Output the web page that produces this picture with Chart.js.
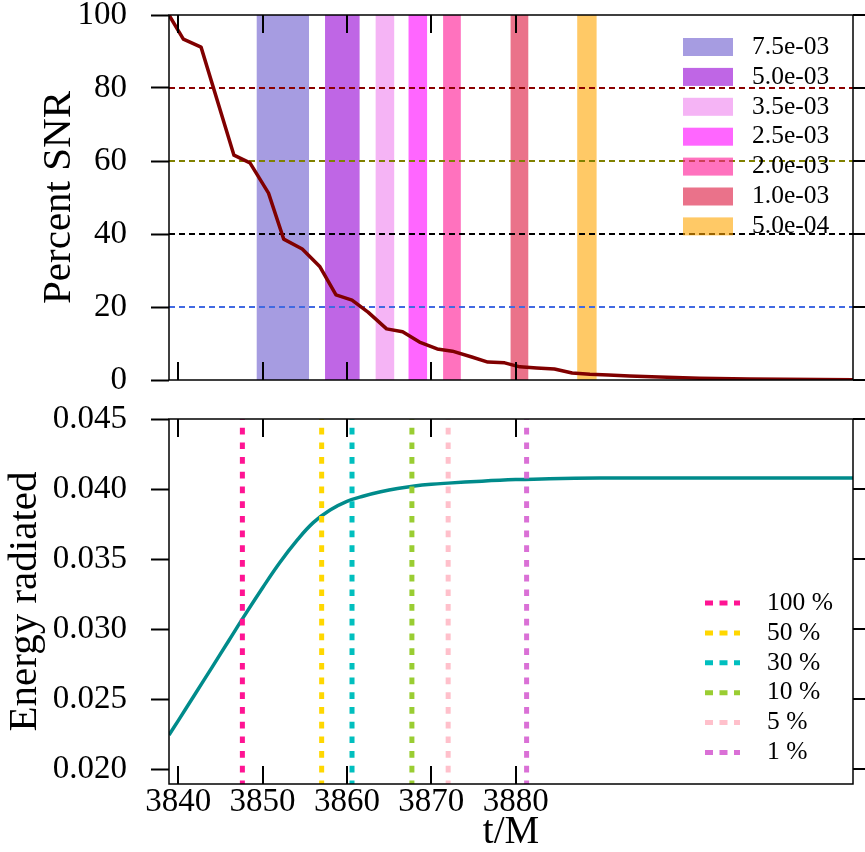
<!DOCTYPE html>
<html>
<head>
<meta charset="utf-8">
<script src="https://cdn.jsdelivr.net/npm/chart.js@4.4.0/dist/chart.umd.min.js"></script>
<style>
  body { margin: 0; background: #fff; }
  #wrap { position: relative; width: 865px; height: 852px; }
  canvas { position: absolute; left: 0; }
</style>
</head>
<body>
<div id="wrap">
  <canvas id="chartSNR" width="865" height="400" style="top:0"></canvas>
  <canvas id="chartEnergy" width="865" height="452" style="top:400px"></canvas>
</div>
<script>
// --- data panel atas (percent SNR) ---
const snrT = [3838.9, 3840.6, 3842.7, 3846.6, 3848.5, 3850.7, 3852.5, 3854.7, 3856.8, 3858.7,
  3860.6, 3862.5, 3864.7, 3866.6, 3868.6, 3870.7, 3872.5, 3874.8, 3876.7, 3878.7,
  3880.5, 3882.5, 3884.6, 3886.7, 3888.8, 3891.0, 3893.5, 3897.0, 3901.8, 3907.7, 3920.0];
const snrPct = [100, 93.4, 91.2, 61.6, 59.5, 51.2, 38.6, 35.9, 31.0, 23.3,
  21.9, 18.6, 14.0, 13.2, 10.4, 8.5, 7.9, 6.3, 4.9, 4.7,
  3.6, 3.3, 3.0, 1.9, 1.6, 1.4, 1.1, 0.8, 0.5, 0.3, 0.1];
const levels = [80, 60, 40, 20];
const levelColors = ['#8b0000', '#808000', '#000000', '#4169e1'];

const bandLabels = ['7.5e-03', '5.0e-03', '3.5e-03', '2.5e-03', '2.0e-03', '1.0e-03', '5.0e-04'];
const bandStart = [3849.3, 3857.4, 3863.4, 3867.3, 3871.4, 3879.4, 3887.3];
const bandEnd = [3855.5, 3861.5, 3865.6, 3869.5, 3873.5, 3881.5, 3889.6];
const bandColors = ['rgba(106,90,205,0.6)', 'rgba(148,0,211,0.6)', 'rgba(238,130,238,0.6)',
  'rgba(255,0,255,0.6)', 'rgba(255,20,147,0.6)', 'rgba(220,20,60,0.6)', 'rgba(255,165,0,0.6)'];

// --- data panel bawah (energy radiated) ---
const energyT = [3838.9, 3840, 3842, 3844, 3846, 3848, 3850, 3852, 3854, 3856, 3858,
  3860, 3862, 3864, 3866, 3868, 3870, 3872, 3876, 3880, 3884, 3890, 3900, 3920];
const energyRad = [0.02243, 0.02346, 0.02536, 0.02726, 0.02918, 0.03110, 0.03295, 0.03472, 0.03628, 0.03760, 0.03850,
  0.03912, 0.03950, 0.03980, 0.04004, 0.04022, 0.04034, 0.04042, 0.04056, 0.04067, 0.04074, 0.04078, 0.04079, 0.04079];
const markLabels = ['100 %', '50 %', '30 %', '10 %', '5 %', '1 %'];
const markT = [3847.6, 3857.0, 3860.6, 3867.7, 3872.0, 3881.3];
const markColors = ['#ff1493', '#ffd700', '#00bfbf', '#9acd32', '#ffc0cb', '#da70d6'];

// tick
const xTicks = [3840, 3850, 3860, 3870, 3880];
const snrTicks = [0, 20, 40, 60, 80, 100];
const energyTicks = [0.020, 0.025, 0.030, 0.035, 0.040, 0.045];
const xMin = 3838.9, xMax = 3920;
const eMin = 0.01893, eMax = 0.045;

Chart.defaults.font.family = "'Liberation Serif', serif";
Chart.defaults.color = '#000';

// bingkai + tick ke dalam (atas/bawah) dan tick kanan
const framePlugin = {
  id: 'frame',
  afterDraw(chart) {
    const { ctx, chartArea: a, scales: { x, y } } = chart;
    ctx.save();
    ctx.strokeStyle = '#000';
    ctx.lineWidth = 1.5;
    ctx.strokeRect(a.left, a.top, a.right - a.left, a.bottom - a.top);
    ctx.lineWidth = 2;
    ctx.beginPath();
    xTicks.forEach(v => {
      const px = Math.round(x.getPixelForValue(v));
      ctx.moveTo(px, a.top); ctx.lineTo(px, a.top + 18);
      ctx.moveTo(px, a.bottom); ctx.lineTo(px, a.bottom - 18);
    });
    y.ticks.forEach(t => {
      const py = y.getPixelForValue(t.value);
      ctx.moveTo(a.right, py); ctx.lineTo(a.right + 12, py);
    });
    ctx.stroke();
    ctx.restore();
  }
};

// pita vertikal (axvspan)
const bandPlugin = {
  id: 'bands',
  beforeDatasetsDraw(chart) {
    const { ctx, chartArea: a, scales: { x } } = chart;
    ctx.save();
    bandLabels.forEach((l, i) => {
      const x0 = x.getPixelForValue(bandStart[i]);
      const x1 = x.getPixelForValue(bandEnd[i]);
      ctx.fillStyle = bandColors[i];
      ctx.fillRect(x0, a.top, x1 - x0, a.bottom - a.top);
    });
    ctx.restore();
  },
  afterDraw(chart) {
    // legenda pita
    const ctx = chart.ctx;
    ctx.save();
    ctx.font = "25.5px 'Liberation Serif', serif";
    ctx.textBaseline = 'middle';
    bandLabels.forEach((l, i) => {
      const cy = 47 + 29.9 * i;
      ctx.fillStyle = bandColors[i];
      ctx.fillRect(683, cy - 9, 50, 18);
      ctx.fillStyle = '#000';
      ctx.fillText(l, 752, cy);
    });
    ctx.restore();
  }
};

// legenda garis putus-putus panel bawah
const markLegend = {
  id: 'markLegend',
  afterDraw(chart) {
    const ctx = chart.ctx;
    ctx.save();
    ctx.font = "25.5px 'Liberation Serif', serif";
    ctx.textBaseline = 'middle';
    markLabels.forEach((l, i) => {
      const cy = 203 + 29.9 * i;
      ctx.strokeStyle = markColors[i];
      ctx.lineWidth = 5;
      ctx.setLineDash([8, 6.5]);
      ctx.beginPath();
      ctx.moveTo(705, cy); ctx.lineTo(740, cy);
      ctx.stroke();
      ctx.fillStyle = '#000';
      ctx.fillText(l, 767, cy);
    });
    ctx.restore();
  }
};

function yAxis(min, max, ticks, fmt, title, titlePad) {
  return {
    type: 'linear', min, max,
    afterBuildTicks: s => { s.ticks = ticks.map(v => ({ value: v })); },
    afterFit: s => { s.width = 169; s.paddingTop = 0; s.paddingBottom = 0; },
    grid: { drawOnChartArea: false, drawTicks: true, tickLength: 18, tickWidth: 2, tickColor: '#000' },
    border: { display: false },
    ticks: { font: { size: 33, lineHeight: 1 }, padding: 24, callback: fmt },
    title: { display: true, text: title, font: { size: 41, lineHeight: 1 }, padding: { top: titlePad, bottom: 0 } }
  };
}

function drawSNR() {
  const ctx = document.getElementById('chartSNR').getContext('2d');
  const datasets = [{
    data: snrT.map((t, i) => ({ x: t, y: snrPct[i] })),
    borderColor: '#800000',
    borderWidth: 3.5,
    borderJoinStyle: 'round',
    pointRadius: 0,
    order: 0
  }];
  levels.forEach((v, i) => datasets.push({
    data: [{ x: xMin, y: v }, { x: xMax, y: v }],
    borderColor: levelColors[i],
    borderWidth: 2,
    borderDash: [6, 4],
    pointRadius: 0,
    order: 1
  }));

  new Chart(ctx, {
    type: 'line',
    data: { datasets },
    options: {
      responsive: false,
      animation: false,
      devicePixelRatio: 1,
      layout: { padding: { top: 15, right: 12, left: 0, bottom: 0 } },
      plugins: { legend: { display: false }, tooltip: { enabled: false } },
      scales: {
        x: {
          type: 'linear', min: xMin, max: xMax,
          afterFit: s => { s.height = 20; s.paddingLeft = 0; s.paddingRight = 0; },
          grid: { display: false, drawTicks: false },
          border: { display: false },
          ticks: { display: false }
        },
        y: yAxis(0, 100, snrTicks, v => String(v), 'Percent SNR', 38.5)
      }
    },
    plugins: [bandPlugin, framePlugin]
  });
}

function drawEnergy() {
  const ctx = document.getElementById('chartEnergy').getContext('2d');
  const datasets = [{
    data: energyT.map((t, i) => ({ x: t, y: energyRad[i] })),
    borderColor: '#008b8b',
    borderWidth: 3.5,
    pointRadius: 0,
    tension: 0.4,
    order: 1
  }];
  markT.forEach((t, i) => datasets.push({
    data: [{ x: t, y: eMax }, { x: t, y: eMin }],
    borderColor: markColors[i],
    borderWidth: 5,
    borderDash: [6.7, 8],
    borderDashOffset: 6,
    pointRadius: 0,
    order: 0
  }));

  new Chart(ctx, {
    type: 'line',
    data: { datasets },
    options: {
      responsive: false,
      animation: false,
      devicePixelRatio: 1,
      layout: { padding: { top: 19, right: 12, left: 0, bottom: 0 } },
      plugins: { legend: { display: false }, tooltip: { enabled: false } },
      scales: {
        x: {
          type: 'linear', min: xMin, max: xMax,
          afterBuildTicks: s => { s.ticks = xTicks.map(v => ({ value: v })); },
          afterFit: s => { s.height = 68; s.paddingLeft = 0; s.paddingRight = 0; },
          grid: { display: false, drawTicks: false },
          border: { display: false },
          ticks: { font: { size: 33, lineHeight: 1 }, padding: 2, maxRotation: 0, autoSkip: false, callback: v => String(v) },
          title: { display: true, text: 't/M', font: { size: 39, lineHeight: 1 }, padding: { top: 0, bottom: 0 } }
        },
        y: yAxis(eMin, eMax, energyTicks, v => v.toFixed(3), 'Energy radiated', 4.5)
      }
    },
    plugins: [markLegend, framePlugin]
  });
}

drawSNR();
drawEnergy();
</script>
</body>
</html>
